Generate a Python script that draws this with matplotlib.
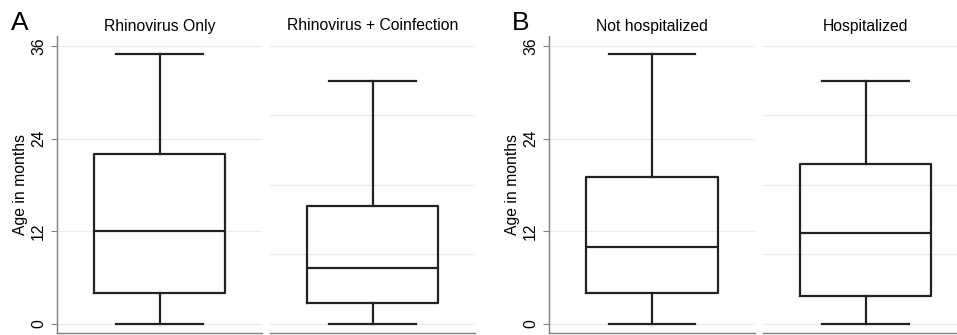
# plot.py
# Box plots of age in months (Stata-style), panels A and B
import matplotlib.pyplot as plt

plt.rcParams.update({
    "font.family": ["Liberation Sans", "DejaVu Sans"],
    "font.size": 11.3,
})

# --- DATA ---
groups_a = ["Rhinovirus Only", "Rhinovirus + Coinfection"]
groups_b = ["Not hospitalized", "Hospitalized"]

# whisker low, Q1, median, Q3, whisker high
low_a = [0, 0]
q1_a = [4.0, 2.7]
med_a = [12.0, 7.2]
q3_a = [22.0, 15.3]
high_a = [35.0, 31.5]

low_b = [0, 0]
q1_b = [4.0, 3.65]
med_b = [10.0, 11.7]
q3_b = [19.0, 20.7]
high_b = [35.0, 31.5]

yticks_main = [0, 12, 24, 36]
grid_second = [0, 9, 18, 27, 36]

W, H = 957, 335
GRID_COL = "#e6eef1"
AXIS_COL = "#7f7f7f"
BOX_COL = "#222222"


def px_axes(fig, x0, x1, y_top, y_bot):
    return fig.add_axes([x0 / W, (H - y_bot) / H, (x1 - x0) / W, (y_bot - y_top) / H])


def draw_panel(fig, letter, letter_x, x_spans, groups, low, q1, med, q3, high):
    for i, (x0, x1) in enumerate(x_spans):
        ax = px_axes(fig, x0, x1, 36, 333)
        ax.set_xlim(0, 1)
        ax.set_ylim(-1.2, 37.3)
        stats = [{"whislo": low[i], "q1": q1[i], "med": med[i],
                  "q3": q3[i], "whishi": high[i], "fliers": []}]
        line = dict(color=BOX_COL, linewidth=1.6)
        ax.bxp(stats, positions=[0.5], widths=0.64, capwidths=0.42,
               showfliers=False, boxprops=line, medianprops=line,
               whiskerprops=line, capprops=line)
        grid_vals = yticks_main if i == 0 else grid_second
        for g in grid_vals:
            ax.axhline(g, color=GRID_COL, linewidth=1.0, zorder=0)
        ax.set_xticks([])
        ax.spines["top"].set_visible(False)
        ax.spines["right"].set_visible(False)
        ax.spines["bottom"].set_color(AXIS_COL)
        ax.spines["bottom"].set_linewidth(1.0)
        if i == 0:
            ax.spines["left"].set_color(AXIS_COL)
            ax.spines["left"].set_linewidth(1.0)
            ax.set_yticks(yticks_main)
            ax.set_yticklabels([str(v) for v in yticks_main], rotation=90,
                               va="center")
            ax.tick_params(axis="y", length=4, color=AXIS_COL, pad=4)
            ax.set_ylabel("Age in months", labelpad=2)
        else:
            ax.spines["left"].set_visible(False)
            ax.set_yticks([])
        ax.set_facecolor("none")
        fig.text((x0 + x1) / 2 / W, 1 - 26 / H, groups[i],
                 ha="center", va="center")
    fig.text(letter_x / W, 1 - 23 / H, letter, ha="center", va="center",
             fontsize=19)


fig = plt.figure(figsize=(W / 100, H / 100), dpi=100)
draw_panel(fig, "A", 20, [(57, 262), (270, 475)], groups_a,
           low_a, q1_a, med_a, q3_a, high_a)
draw_panel(fig, "B", 521, [(549, 755), (763, 968)], groups_b,
           low_b, q1_b, med_b, q3_b, high_b)

fig.savefig("out.png", dpi=100, facecolor="white")
